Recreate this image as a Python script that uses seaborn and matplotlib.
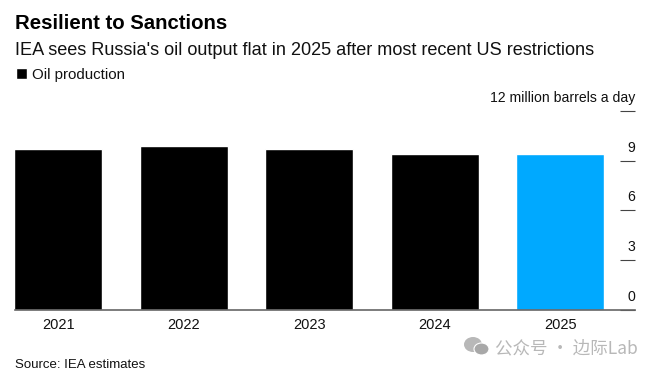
# -*- coding: utf-8 -*-
"""Resilient to Sanctions: Russian oil output bar chart."""
import matplotlib
matplotlib.use('Agg')
import matplotlib.pyplot as plt
import matplotlib.transforms as mtransforms
from matplotlib.patches import Ellipse, Patch
import pandas as pd
import seaborn as sns

years = ['2021', '2022', '2023', '2024', '2025']
production = [9.7, 9.9, 9.7, 9.4, 9.4]
bar_colors = ['#000000', '#000000', '#000000', '#000000', '#00A9FF']
y_ticks = [0, 3, 6, 9, 12]
y_tick_labels = ['0', '3', '6', '9', '12 million barrels a day']

W, H = 660, 373


def fx(px):
    return px / W


def fy(px):
    return 1 - px / H


sns.set_theme(style='white')
plt.rcParams['font.family'] = ['Liberation Sans', 'DejaVu Sans']

df = pd.DataFrame({'Year': years, 'Production': production})

fig = plt.figure(figsize=(6.6, 3.73), dpi=100, facecolor='white')
ax = fig.add_axes([fx(15), fy(310), fx(620), (310 - 110.7) / H])
ax.patch.set_alpha(0)

sns.barplot(data=df, x='Year', y='Production', hue='Year', palette=bar_colors,
            width=0.7, saturation=1, legend=False, ax=ax)

ax.set_xlim(-0.345, 4.597)
ax.set_ylim(0, 12)
ax.set_xlabel('')
ax.set_ylabel('')

for side in ['top', 'left', 'right']:
    ax.spines[side].set_visible(False)
ax.spines['bottom'].set_color('#666666')
ax.spines['bottom'].set_linewidth(1.2)

ax.tick_params(axis='x', length=0, pad=5.5, labelsize=10.5, labelcolor='#111111')
ax.yaxis.tick_right()
ax.set_yticks(y_ticks)
ax.set_yticklabels(y_tick_labels)
ax.tick_params(axis='y', direction='in', length=10.5, width=0.8, color='#444444',
               pad=0, labelsize=10.1, labelcolor='#111111')

# labels sit on top of their tick marks, right aligned to the mark
shift = mtransforms.ScaledTranslation(0, 9 / 100, fig.dpi_scale_trans)
for lab in ax.get_yticklabels():
    lab.set_horizontalalignment('right')
    lab.set_verticalalignment('baseline')
    lab.set_transform(lab.get_transform() + shift)

fig.text(fx(15), fy(29), 'Resilient to Sanctions', fontsize=14.7, fontweight='bold',
         color='black', va='baseline')
fig.text(fx(15), fy(55), "IEA sees Russia's oil output flat in 2025 after most recent US restrictions",
         fontsize=13.03, color='#111111', va='baseline')
fig.text(fx(15), fy(368), 'Source: IEA estimates', fontsize=9.5, color='#111111', va='baseline')

fig.legend(handles=[Patch(facecolor='black', label='Oil production')],
           loc='center left', bbox_to_anchor=(fx(16), fy(75)), frameon=False,
           fontsize=10.8, handlelength=0.72, handleheight=0.72, handletextpad=0.33,
           labelcolor='#111111', borderpad=0, borderaxespad=0)

# watermark
wm = '#B8B8B8'
fig.text(fx(495), fy(353), '公众号 · 边际Lab', fontsize=12.6, color=wm, va='baseline',
         family=['Noto Sans CJK SC', 'DejaVu Sans'])
fig.add_artist(Ellipse((fx(473), fy(344.5)), 18 / W, 15 / H, transform=fig.transFigure,
                       facecolor=wm, edgecolor='none'))
fig.add_artist(Ellipse((fx(481.5), fy(349)), 15 / W, 12 / H, transform=fig.transFigure,
                       facecolor='#A8A8A8', edgecolor='white', linewidth=0.8))

fig.savefig('out.png', dpi=100)
plt.close(fig)
